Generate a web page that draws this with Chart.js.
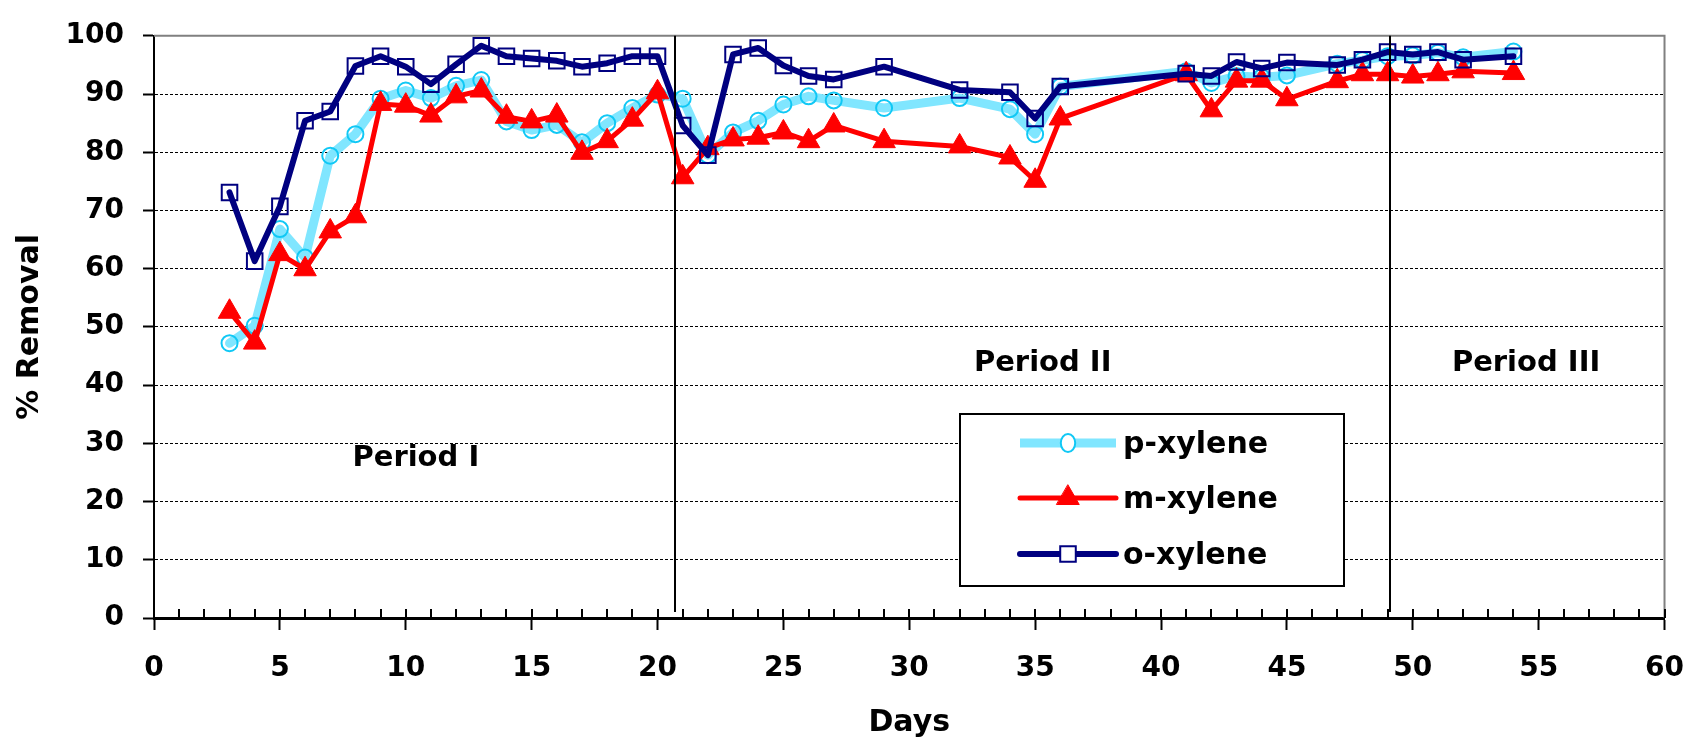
<!DOCTYPE html>
<html>
<head>
<meta charset="utf-8">
<script src="https://cdn.jsdelivr.net/npm/chart.js@4.4.1/dist/chart.umd.min.js"></script>
<style>
    html, body { margin: 0; padding: 0; background: #fff; }
    #wrap { width: 1706px; height: 746px; }
</style>
</head>
<body>
<div id="wrap"><canvas id="xyleneChart" width="1706" height="746"></canvas></div>
<script>
// 採樣天數
const days = [3, 4, 5, 6, 7, 8, 9, 10, 11, 12, 13, 14, 15, 16, 17, 18, 19, 20, 21, 22,
    23, 24, 25, 26, 27, 29, 32, 34, 35, 36, 41, 42, 43, 44, 45, 47, 48, 49, 50, 51, 52, 54];

// 去除率 (%)
const pXylene = [47.2, 50.2, 66.8, 61.9, 79.4, 83.1, 89.2, 90.6, 89.3, 91.4, 92.4, 85.3, 83.8, 84.7,
    81.7, 85.0, 87.6, 89.9, 89.2, 79.5, 83.4, 85.4, 88.2, 89.6, 88.9, 87.6, 89.3, 87.4, 83.1, 91.3,
    93.9, 91.9, 93.1, 92.9, 93.2, 95.2, 95.8, 96.5, 96.6, 97.1, 96.3, 97.3];
const mXylene = [52.6, 47.3, 62.5, 59.9, 66.4, 69.0, 88.3, 88.0, 86.3, 89.6, 90.6, 86.1, 85.3, 86.3,
    79.9, 81.9, 85.6, 90.3, 75.7, 80.7, 82.2, 82.5, 83.4, 81.9, 84.6, 81.9, 81.0, 79.1, 75.1, 85.8,
    93.4, 87.2, 92.3, 92.3, 89.1, 92.2, 93.4, 93.4, 93.0, 93.4, 93.9, 93.6];
const oXylene = [73.1, 61.3, 70.7, 85.4, 87.0, 94.8, 96.5, 94.7, 91.7, 95.1, 98.3, 96.5, 96.1, 95.7,
    94.7, 95.3, 96.5, 96.5, 84.6, 79.5, 96.8, 97.9, 94.9, 93.1, 92.5, 94.7, 90.7, 90.3, 85.8, 91.3,
    93.5, 93.1, 95.5, 94.4, 95.4, 95.0, 95.9, 97.2, 96.8, 97.2, 95.9, 96.5];

const seriesNames = ['p-xylene', 'm-xylene', 'o-xylene'];

// 軸刻度
const xMajorTicks = [0, 5, 10, 15, 20, 25, 30, 35, 40, 45, 50, 55, 60];
const yTicks = [0, 10, 20, 30, 40, 50, 60, 70, 80, 90, 100];

// 分期界線 (天) 與標籤
const periodBounds = [20.7, 49.1];
const periodLabels = ['Period I', 'Period II', 'Period III'];
const periodLabelAt = [[10.4, 27.4], [35.3, 43.8], [54.5, 43.8]]; // [天, %]

const FONT = '"DejaVu Sans", Verdana, sans-serif';

function toPoints(values) {
    return days.map((d, i) => ({ x: d, y: values[i] }));
}

// 自畫圖例的標記
function drawMarker(ctx, ds, x, y, r) {
    ctx.save();
    ctx.lineWidth = ds.pointBorderWidth;
    ctx.strokeStyle = ds.pointBorderColor;
    ctx.fillStyle = ds.pointBackgroundColor;
    ctx.beginPath();
    if (ds.pointStyle === 'circle') {
        ctx.ellipse(x, y, r * 0.8, r, 0, 0, Math.PI * 2);
        ctx.fillStyle = '#fff';
        ctx.fill();
    } else if (ds.pointStyle === 'triangle') {
        ctx.moveTo(x, y - r);
        ctx.lineTo(x + r * 0.866, y + r / 2);
        ctx.lineTo(x - r * 0.866, y + r / 2);
        ctx.closePath();
        ctx.fill();
    } else {
        const s = r * Math.SQRT1_2;
        ctx.rect(x - s, y - s, 2 * s, 2 * s);
        ctx.fillStyle = '#fff';
        ctx.fill();
    }
    ctx.stroke();
    ctx.restore();
}

const decorPlugin = {
    id: 'decor',
    beforeDatasetsDraw(chart) {
        const { ctx, chartArea: a } = chart;
        const xs = chart.scales.x;
        ctx.save();
        // 上、右框線 (灰)
        ctx.strokeStyle = '#808080';
        ctx.lineWidth = 2;
        ctx.beginPath();
        ctx.moveTo(a.left, a.top);
        ctx.lineTo(a.right, a.top);
        ctx.lineTo(a.right, a.bottom);
        ctx.stroke();
        // X 軸次刻度 (向內)
        ctx.strokeStyle = '#000';
        ctx.lineWidth = 2;
        ctx.beginPath();
        for (let d = xs.min; d <= xs.max; d++) {
            const px = Math.round(xs.getPixelForValue(d));
            ctx.moveTo(px, a.bottom);
            ctx.lineTo(px, a.bottom - 9);
        }
        ctx.stroke();
        ctx.restore();
    },
    afterDatasetsDraw(chart) {
        const { ctx, chartArea: a } = chart;
        const xs = chart.scales.x, ys = chart.scales.y;
        ctx.save();
        // 分期線
        ctx.strokeStyle = '#000';
        ctx.lineWidth = 2;
        ctx.beginPath();
        periodBounds.forEach(d => {
            const px = Math.round(xs.getPixelForValue(d));
            ctx.moveTo(px, a.top);
            ctx.lineTo(px, a.bottom - 6);
        });
        ctx.stroke();
        // 分期標籤
        ctx.fillStyle = '#000';
        ctx.font = 'bold 29px ' + FONT;
        ctx.textAlign = 'center';
        ctx.textBaseline = 'middle';
        periodLabels.forEach((t, i) => {
            const [d, v] = periodLabelAt[i];
            ctx.fillText(t, xs.getPixelForValue(d), ys.getPixelForValue(v));
        });

        // 圖例
        const box = { left: 960, top: 414, right: 1344, bottom: 586 };
        ctx.fillStyle = '#fff';
        ctx.fillRect(box.left, box.top, box.right - box.left, box.bottom - box.top);
        ctx.strokeStyle = '#000';
        ctx.lineWidth = 2;
        ctx.strokeRect(box.left, box.top, box.right - box.left, box.bottom - box.top);
        const rows = [443, 498, 554];
        const markerR = [9, 13, 11];
        chart.data.datasets.forEach((ds, i) => {
            const y = rows[i];
            ctx.strokeStyle = ds.borderColor;
            ctx.lineWidth = ds.borderWidth;
            ctx.lineCap = i === 0 ? 'butt' : 'round';
            ctx.beginPath();
            ctx.moveTo(1020, y);
            ctx.lineTo(1116, y);
            ctx.stroke();
            drawMarker(ctx, ds, 1068, y, markerR[i]);
            ctx.fillStyle = '#000';
            ctx.font = 'bold 30px ' + FONT;
            ctx.textAlign = 'left';
            ctx.textBaseline = 'middle';
            ctx.fillText(ds.label, 1123, y + 2);
        });
        ctx.restore();
    }
};

document.addEventListener('DOMContentLoaded', () => {
    const ctx = document.getElementById('xyleneChart').getContext('2d');

    new Chart(ctx, {
        type: 'line',
        data: {
            datasets: [{
                label: seriesNames[0],
                data: toPoints(pXylene),
                borderColor: '#80E6FF',
                borderWidth: 9,
                pointStyle: 'circle',
                pointRadius: 8,
                pointBorderWidth: 2,
                pointBorderColor: '#10C8F5',
                pointBackgroundColor: 'rgba(0,0,0,0)',
                order: 3
            }, {
                label: seriesNames[1],
                data: toPoints(mXylene),
                borderColor: '#FF0000',
                borderWidth: 5,
                pointStyle: 'triangle',
                pointRadius: 13,
                pointBorderWidth: 1,
                pointBorderColor: '#FF0000',
                pointBackgroundColor: '#FF0000',
                order: 2
            }, {
                label: seriesNames[2],
                data: toPoints(oXylene),
                borderColor: '#000080',
                borderWidth: 6,
                pointStyle: 'rect',
                pointRadius: 11,
                pointBorderWidth: 2,
                pointBorderColor: '#000080',
                pointBackgroundColor: 'rgba(0,0,0,0)',
                order: 1
            }]
        },
        options: {
            responsive: false,
            animation: false,
            borderJoinStyle: 'round',
            elements: {
                line: { tension: 0, borderJoinStyle: 'round', borderCapStyle: 'round' }
            },
            layout: { padding: { top: 26, right: 28, bottom: 0, left: 0 } },
            plugins: {
                legend: { display: false },
                tooltip: { enabled: false }
            },
            scales: {
                x: {
                    type: 'linear',
                    min: 0,
                    max: 60,
                    afterFit: s => { s.height = 128; },
                    ticks: {
                        stepSize: 1,
                        autoSkip: false,
                        maxRotation: 0,
                        padding: 22,
                        color: '#000',
                        font: { family: FONT, size: 28, weight: 'bold' },
                        callback: v => xMajorTicks.includes(v) ? String(v) : ''
                    },
                    grid: {
                        drawOnChartArea: false,
                        drawTicks: true,
                        tickLength: 12,
                        tickWidth: 2,
                        tickColor: c => xMajorTicks.includes(c.tick.value) ? '#000' : 'rgba(0,0,0,0)'
                    },
                    border: { color: '#000', width: 3 },
                    title: {
                        display: true,
                        text: 'Days',
                        color: '#000',
                        font: { family: FONT, size: 30, weight: 'bold' },
                        padding: { top: 0, bottom: 5 }
                    }
                },
                y: {
                    min: 0,
                    max: 100,
                    afterFit: s => { s.width = 154; },
                    afterBuildTicks: s => { s.ticks = yTicks.map(v => ({ value: v })); },
                    ticks: {
                        padding: 19,
                        color: '#000',
                        font: { family: FONT, size: 28, weight: 'bold' }
                    },
                    grid: {
                        color: c => (c.tick.value === 0 || c.tick.value === 100) ? 'rgba(0,0,0,0)' : '#000',
                        lineWidth: 1,
                        tickLength: 11,
                        tickWidth: 2,
                        tickColor: '#000'
                    },
                    border: { color: '#000', width: 2, dash: [3, 2] },
                    title: {
                        display: true,
                        text: '% Removal',
                        color: '#000',
                        font: { family: FONT, size: 30, weight: 'bold' },
                        padding: { top: 12, bottom: 0 }
                    }
                }
            }
        },
        plugins: [decorPlugin]
    });
});
</script>
</body>
</html>
